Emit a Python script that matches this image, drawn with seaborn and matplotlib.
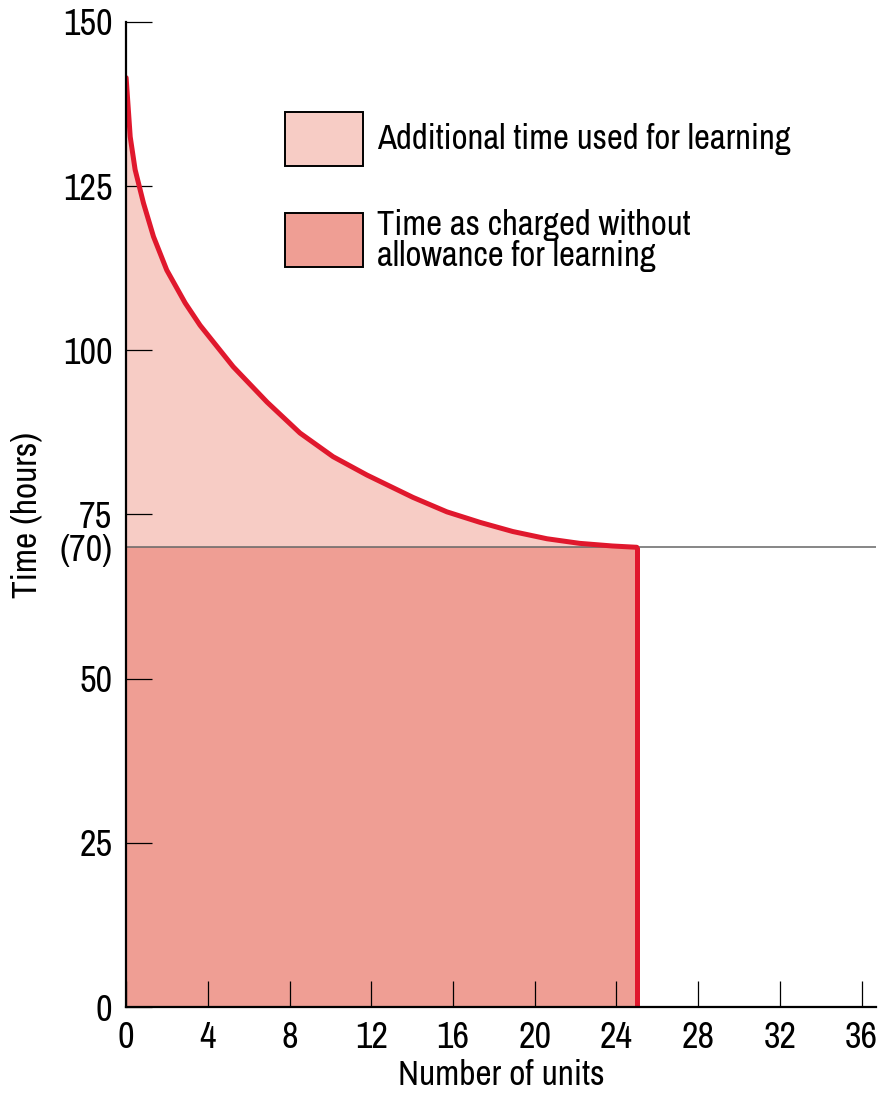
import pandas as pd
import seaborn as sns
import matplotlib.pyplot as plt
from matplotlib.patches import Rectangle

# learning curve
units = [0, 0.1, 0.2, 0.44, 0.85, 1.34, 1.99, 2.89, 3.62, 5.24, 6.9,
         8.51, 10.13, 11.79, 14.04, 15.7, 17.32, 18.93, 20.6, 22.2, 23.8, 25]
hours = [141.5, 137.0, 132.5, 127.5, 122.4, 117.3, 112.2, 107.2, 103.8, 97.5, 92.1,
         87.4, 83.8, 81.0, 77.6, 75.4, 73.8, 72.4, 71.3, 70.6, 70.2, 70]
standard_time = 70
last_unit = 25

x_ticks = [0, 4, 8, 12, 16, 20, 24, 28, 32, 36]
y_ticks = [0, 25, 50, 70, 75, 100, 125, 150]
y_tick_labels = ["0", "25", "50", "(70)", "75", "100", "125", "150"]

legend_labels = ["Additional time used for learning",
                 "Time as charged without\nallowance for learning"]

light_fill = "#f7ccc5"
dark_fill = "#ef9e94"
curve_red = "#e0182d"


def main():
    sns.set_style("ticks")
    plt.rcParams["font.family"] = ["Archivo Narrow", "Roboto Condensed", "DejaVu Sans"]
    plt.rcParams["text.color"] = "black"
    plt.rcParams["axes.labelcolor"] = "black"
    plt.rcParams["xtick.color"] = "black"
    plt.rcParams["ytick.color"] = "black"

    df = pd.DataFrame({"units": units, "hours": hours})

    fig = plt.figure(figsize=(8.82, 10.94), dpi=100)
    ax = fig.add_axes([0.143, 0.0795, 0.85, 0.9005])
    ax.set_axisbelow(False)

    # shaded areas
    ax.fill_between(df["units"], standard_time, df["hours"], color=light_fill, lw=0, zorder=0.5)
    ax.fill_between([0, last_unit], 0, standard_time, color=dark_fill, lw=0, zorder=0.5)

    # standard time reference line
    ax.axhline(standard_time, color="#666666", lw=1.1, zorder=2)

    # learning curve
    sns.lineplot(data=df, x="units", y="hours", color=curve_red, lw=3.6, ax=ax, zorder=3)
    ax.plot([last_unit, last_unit], [0, standard_time], color=curve_red, lw=3.6, zorder=3,
            solid_capstyle="butt")

    ax.set_xlim(0, 36.7)
    ax.set_ylim(0, 150)
    ax.set_xticks(x_ticks)
    ax.set_yticks(y_ticks)
    ax.set_yticklabels(y_tick_labels)
    ax.tick_params(direction="in", length=19, width=0.9, labelsize=26, pad=10)
    ax.set_xlabel("Number of units", fontsize=25.5, labelpad=4)
    ax.set_ylabel("Time (hours)", fontsize=25.5, labelpad=12)

    sns.despine(ax=ax)
    for side in ["left", "bottom"]:
        ax.spines[side].set_linewidth(1.6)
        ax.spines[side].set_color("black")
        ax.spines[side].set_zorder(4)
    # the tick at 70 sits under the reference line
    ax.yaxis.get_major_ticks()[3].tick1line.set_visible(False)

    # legend drawn as boxes in axes fraction
    for yb, col, lab in [(0.854, light_fill, legend_labels[0]),
                         (0.751, dark_fill, legend_labels[1])]:
        ax.add_patch(Rectangle((0.212, yb), 0.104, 0.0548, transform=ax.transAxes,
                               facecolor=col, edgecolor="black", lw=1.4, zorder=4))
        ax.text(0.335, yb + 0.0274, lab, transform=ax.transAxes, fontsize=25,
                va="center", ha="left", linespacing=0.95)

    fig.savefig("out.png", dpi=100)


if __name__ == "__main__":
    main()
